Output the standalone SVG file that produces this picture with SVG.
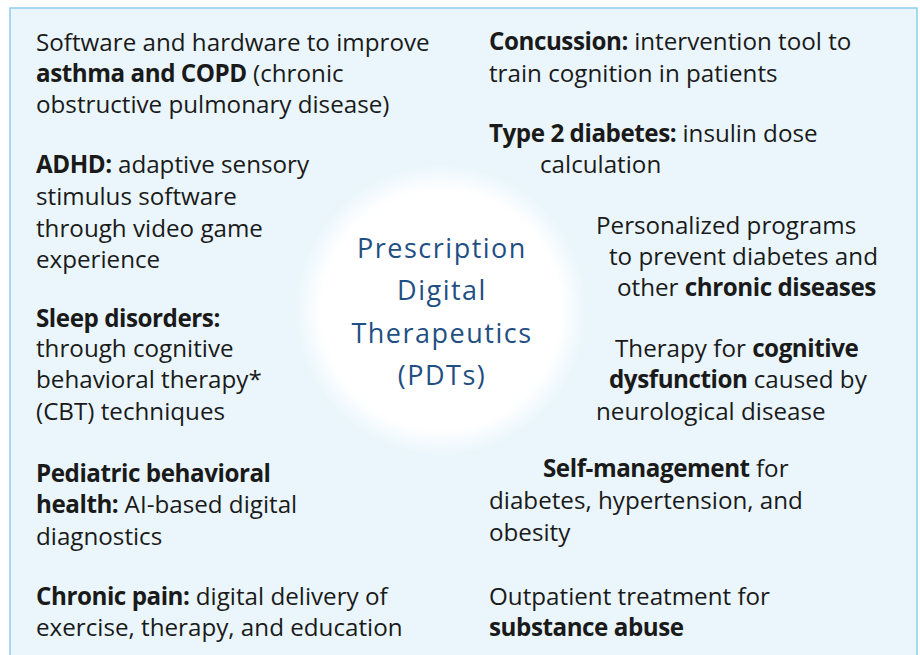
<svg xmlns="http://www.w3.org/2000/svg" width="920" height="655" viewBox="0 0 920 655">
<defs>
<radialGradient id="glow" cx="441" cy="310" r="146" gradientUnits="userSpaceOnUse">
<stop offset="0" stop-color="#ffffff" stop-opacity="1"/>
<stop offset="0.82" stop-color="#ffffff" stop-opacity="1"/>
<stop offset="1" stop-color="#ffffff" stop-opacity="0"/>
</radialGradient>
<style>
.t{font-family:"Open Sans","Liberation Sans",sans-serif;font-size:24.2px;fill:#1a1a1a;}
.b{font-weight:700;letter-spacing:-0.45px;}
.title{font-family:"Open Sans","Liberation Sans",sans-serif;font-size:27px;fill:#1f4f83;letter-spacing:1.5px;text-anchor:middle;}
</style>
</defs>
<rect x="0" y="0" width="920" height="655" fill="#ffffff"/>
<rect x="10" y="8" width="907" height="670" fill="#eaf6fc" stroke="#8ecdee" stroke-width="1.5"/>
<g id="center">
<circle cx="441" cy="310" r="146" fill="url(#glow)"/>
<text class="title" x="442" y="258">Prescription</text>
<text class="title" x="442" y="300">Digital</text>
<text class="title" x="442" y="343">Therapeutics</text>
<text class="title" x="442" y="385">(PDTs)</text>
</g>
<g id="connectors"></g>
<g id="asthma">
<text class="t" x="36" y="51">Software and hardware to improve</text>
<text class="t" x="36" y="82"><tspan class="b">asthma and COPD</tspan> (chronic</text>
<text class="t" x="36" y="113">obstructive pulmonary disease)</text>
</g>
<g id="adhd">
<text class="t" x="36" y="173"><tspan class="b">ADHD:</tspan> adaptive sensory</text>
<text class="t" x="36" y="205">stimulus software</text>
<text class="t" x="36" y="237">through video game</text>
<text class="t" x="36" y="268">experience</text>
</g>
<g id="sleep">
<text class="t" x="36" y="327"><tspan class="b">Sleep disorders:</tspan></text>
<text class="t" x="36" y="357">through cognitive</text>
<text class="t" x="36" y="388">behavioral therapy*</text>
<text class="t" x="36" y="420">(CBT) techniques</text>
</g>
<g id="pediatric">
<text class="t" x="36" y="482"><tspan class="b">Pediatric behavioral</tspan></text>
<text class="t" x="36" y="513"><tspan class="b">health:</tspan> AI-based digital</text>
<text class="t" x="36" y="545">diagnostics</text>
</g>
<g id="pain">
<text class="t" x="36" y="605"><tspan class="b">Chronic pain:</tspan> digital delivery of</text>
<text class="t" x="36" y="636">exercise, therapy, and education</text>
</g>
<g id="concussion">
<text class="t" x="489" y="50"><tspan class="b">Concussion:</tspan> intervention tool to</text>
<text class="t" x="489" y="82">train cognition in patients</text>
</g>
<g id="diabetes2">
<text class="t" x="489" y="142"><tspan class="b">Type 2 diabetes:</tspan> insulin dose</text>
<text class="t" x="540" y="173">calculation</text>
</g>
<g id="chronic">
<text class="t" x="596" y="234">Personalized programs</text>
<text class="t" x="609" y="265">to prevent diabetes and</text>
<text class="t" x="617" y="296">other <tspan class="b">chronic diseases</tspan></text>
</g>
<g id="cognitive">
<text class="t" x="615" y="357">Therapy for <tspan class="b">cognitive</tspan></text>
<text class="t" x="609" y="388"><tspan class="b">dysfunction</tspan> caused by</text>
<text class="t" x="596" y="420">neurological disease</text>
</g>
<g id="selfmgmt">
<text class="t" x="543" y="477"><tspan class="b">Self-management</tspan> for</text>
<text class="t" x="489" y="509">diabetes, hypertension, and</text>
<text class="t" x="489" y="541">obesity</text>
</g>
<g id="substance">
<text class="t" x="489" y="605">Outpatient treatment for</text>
<text class="t" x="489" y="636"><tspan class="b">substance abuse</tspan></text>
</g>
</svg>
